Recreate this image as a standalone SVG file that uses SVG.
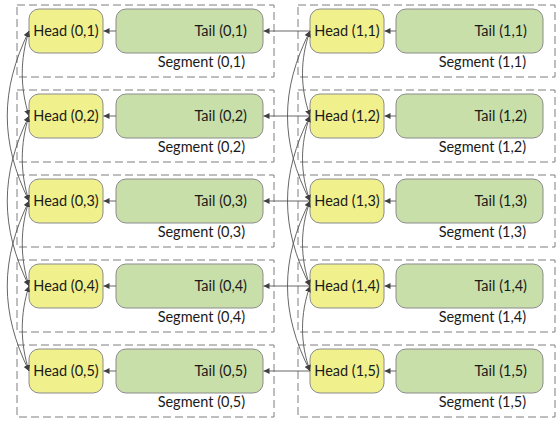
<svg xmlns="http://www.w3.org/2000/svg" width="558" height="424" viewBox="0 0 558 424">
<style>
.seg{fill:none;stroke:#7f7f7f;stroke-width:1;stroke-dasharray:8,4}
.head{fill:#F0F08C;stroke:#8c8c8c;stroke-width:1}
.tail{fill:#C8DFAA;stroke:#8c8c8c;stroke-width:1}
text{font-family:Lato,"Liberation Sans",Arial,sans-serif;font-size:14.5px;fill:#1a1a1a}
.c{text-anchor:middle}
.e{text-anchor:end}
.ln{fill:none;stroke:#555;stroke-width:0.9}
</style>
<defs>
<marker id="ar" markerUnits="userSpaceOnUse" markerWidth="7" markerHeight="6" refX="6" refY="3" orient="auto-start-reverse">
<path d="M0,0 L6,3 L0,6 z" fill="#404040"/>
</marker>
</defs>
<g id="seg01"><rect class="seg" x="17" y="5" width="257" height="72"/><text class="e" x="245" y="67">Segment (0,1)</text></g>
<g id="seg02"><rect class="seg" x="17" y="90" width="257" height="72"/><text class="e" x="245" y="152">Segment (0,2)</text></g>
<g id="seg03"><rect class="seg" x="17" y="175" width="257" height="72"/><text class="e" x="245" y="237">Segment (0,3)</text></g>
<g id="seg04"><rect class="seg" x="17" y="260" width="257" height="72"/><text class="e" x="245" y="322">Segment (0,4)</text></g>
<g id="seg05"><rect class="seg" x="17" y="345" width="257" height="72"/><text class="e" x="245" y="407">Segment (0,5)</text></g>
<g id="seg11"><rect class="seg" x="298" y="5" width="257" height="72"/><text class="e" x="526" y="67">Segment (1,1)</text></g>
<g id="seg12"><rect class="seg" x="298" y="90" width="257" height="72"/><text class="e" x="526" y="152">Segment (1,2)</text></g>
<g id="seg13"><rect class="seg" x="298" y="175" width="257" height="72"/><text class="e" x="526" y="237">Segment (1,3)</text></g>
<g id="seg14"><rect class="seg" x="298" y="260" width="257" height="72"/><text class="e" x="526" y="322">Segment (1,4)</text></g>
<g id="seg15"><rect class="seg" x="298" y="345" width="257" height="72"/><text class="e" x="526" y="407">Segment (1,5)</text></g>

<g id="head01"><rect class="head" x="29" y="9" width="74" height="44" rx="10"/><text class="c" x="66" y="36">Head (0,1)</text></g>
<g id="head02"><rect class="head" x="29" y="94" width="74" height="44" rx="10"/><text class="c" x="66" y="121">Head (0,2)</text></g>
<g id="head03"><rect class="head" x="29" y="179" width="74" height="44" rx="10"/><text class="c" x="66" y="206">Head (0,3)</text></g>
<g id="head04"><rect class="head" x="29" y="264" width="74" height="44" rx="10"/><text class="c" x="66" y="291">Head (0,4)</text></g>
<g id="head05"><rect class="head" x="29" y="349" width="74" height="44" rx="10"/><text class="c" x="66" y="376">Head (0,5)</text></g>
<g id="head11"><rect class="head" x="310" y="9" width="74" height="44" rx="10"/><text class="c" x="347" y="36">Head (1,1)</text></g>
<g id="head12"><rect class="head" x="310" y="94" width="74" height="44" rx="10"/><text class="c" x="347" y="121">Head (1,2)</text></g>
<g id="head13"><rect class="head" x="310" y="179" width="74" height="44" rx="10"/><text class="c" x="347" y="206">Head (1,3)</text></g>
<g id="head14"><rect class="head" x="310" y="264" width="74" height="44" rx="10"/><text class="c" x="347" y="291">Head (1,4)</text></g>
<g id="head15"><rect class="head" x="310" y="349" width="74" height="44" rx="10"/><text class="c" x="347" y="376">Head (1,5)</text></g>

<g id="tail01"><rect class="tail" x="116" y="9" width="147" height="44" rx="10"/><text class="e" x="247" y="36">Tail (0,1)</text></g>
<g id="tail02"><rect class="tail" x="116" y="94" width="147" height="44" rx="10"/><text class="e" x="247" y="121">Tail (0,2)</text></g>
<g id="tail03"><rect class="tail" x="116" y="179" width="147" height="44" rx="10"/><text class="e" x="247" y="206">Tail (0,3)</text></g>
<g id="tail04"><rect class="tail" x="116" y="264" width="147" height="44" rx="10"/><text class="e" x="247" y="291">Tail (0,4)</text></g>
<g id="tail05"><rect class="tail" x="116" y="349" width="147" height="44" rx="10"/><text class="e" x="247" y="376">Tail (0,5)</text></g>
<g id="tail11"><rect class="tail" x="396" y="9" width="147" height="44" rx="10"/><text class="e" x="527" y="36">Tail (1,1)</text></g>
<g id="tail12"><rect class="tail" x="396" y="94" width="147" height="44" rx="10"/><text class="e" x="527" y="121">Tail (1,2)</text></g>
<g id="tail13"><rect class="tail" x="396" y="179" width="147" height="44" rx="10"/><text class="e" x="527" y="206">Tail (1,3)</text></g>
<g id="tail14"><rect class="tail" x="396" y="264" width="147" height="44" rx="10"/><text class="e" x="527" y="291">Tail (1,4)</text></g>
<g id="tail15"><rect class="tail" x="396" y="349" width="147" height="44" rx="10"/><text class="e" x="527" y="376">Tail (1,5)</text></g>

<g id="connectors">
<path class="ln" marker-end="url(#ar)" d="M116,31 H103.5"/>
<path class="ln" marker-end="url(#ar)" d="M116,116 H103.5"/>
<path class="ln" marker-end="url(#ar)" d="M116,201 H103.5"/>
<path class="ln" marker-end="url(#ar)" d="M116,286 H103.5"/>
<path class="ln" marker-end="url(#ar)" d="M116,371 H103.5"/>
<path class="ln" marker-end="url(#ar)" d="M396,31 H384.5"/>
<path class="ln" marker-end="url(#ar)" d="M396,116 H384.5"/>
<path class="ln" marker-end="url(#ar)" d="M396,201 H384.5"/>
<path class="ln" marker-end="url(#ar)" d="M396,286 H384.5"/>
<path class="ln" marker-end="url(#ar)" d="M396,371 H384.5"/>
<path class="ln" marker-end="url(#ar)" d="M310,31 H263.5"/>
<path class="ln" marker-end="url(#ar)" d="M310,116 H263.5"/>
<path class="ln" marker-end="url(#ar)" d="M310,201 H263.5"/>
<path class="ln" marker-end="url(#ar)" d="M310,286 H263.5"/>
<path class="ln" marker-end="url(#ar)" d="M310,371 H263.5"/>
<path class="ln" marker-start="url(#ar)" marker-end="url(#ar)" d="M29,31 C20,59 20,88 29,116"/>
<path class="ln" marker-start="url(#ar)" marker-end="url(#ar)" d="M29,116 C20,144 20,173 29,201"/>
<path class="ln" marker-start="url(#ar)" marker-end="url(#ar)" d="M29,201 C20,229 20,258 29,286"/>
<path class="ln" marker-start="url(#ar)" marker-end="url(#ar)" d="M29,286 C20,314 20,343 29,371"/>
<path class="ln" marker-start="url(#ar)" marker-end="url(#ar)" d="M29,31 C0,90 0,142 29,201"/>
<path class="ln" marker-start="url(#ar)" marker-end="url(#ar)" d="M29,116 C0,175 0,227 29,286"/>
<path class="ln" marker-start="url(#ar)" marker-end="url(#ar)" d="M29,201 C0,260 0,312 29,371"/>
<path class="ln" marker-start="url(#ar)" marker-end="url(#ar)" d="M310,31 C300,59 300,88 310,116"/>
<path class="ln" marker-start="url(#ar)" marker-end="url(#ar)" d="M310,116 C300,144 300,173 310,201"/>
<path class="ln" marker-start="url(#ar)" marker-end="url(#ar)" d="M310,201 C300,229 300,258 310,286"/>
<path class="ln" marker-start="url(#ar)" marker-end="url(#ar)" d="M310,286 C300,314 300,343 310,371"/>
<path class="ln" marker-start="url(#ar)" marker-end="url(#ar)" d="M310,31 C280,90 280,142 310,201"/>
<path class="ln" marker-start="url(#ar)" marker-end="url(#ar)" d="M310,116 C280,175 280,227 310,286"/>
<path class="ln" marker-start="url(#ar)" marker-end="url(#ar)" d="M310,201 C280,260 280,312 310,371"/>
</g>
</svg>
